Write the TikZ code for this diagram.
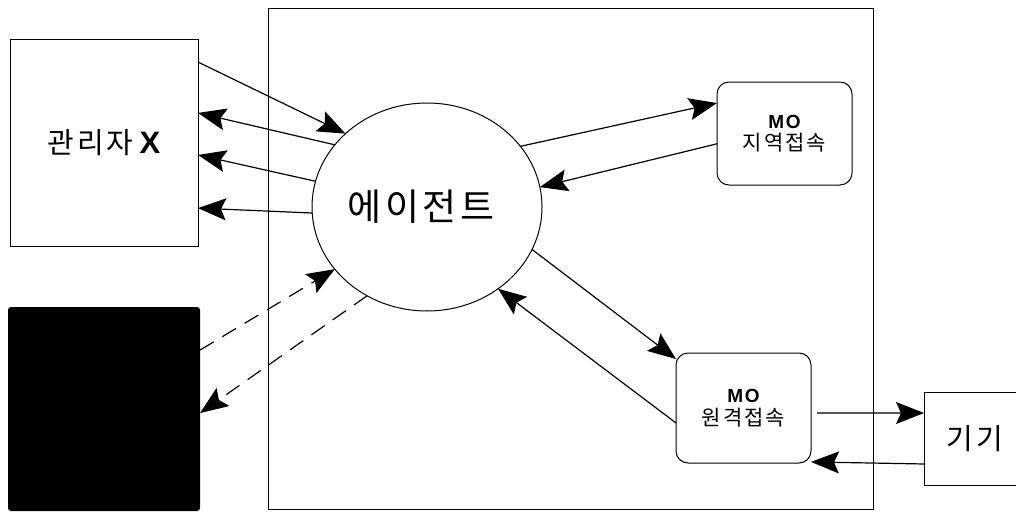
\documentclass[tikz,border=0pt]{standalone}
\usepackage{fontspec}
\setmainfont{Liberation Sans}
\newfontfamily\kr[LetterSpace=10]{Noto Sans CJK KR}
\newfontfamily\krw[LetterSpace=10]{Noto Sans CJK KR}
\newfontfamily\lb{Liberation Sans}
\newfontfamily\lbs[LetterSpace=10]{Liberation Sans}
\usetikzlibrary{arrows.meta,calc,shapes.geometric}
\tikzset{
  box/.style={draw, line width=1pt, inner sep=0pt, outer sep=0pt},
  mobox/.style={box, rounded corners=12pt, minimum width=135pt, align=center},
  arr/.style={line width=1.2pt, -{Stealth[length=28pt,width=22pt,inset=5pt]}},
  darr/.style={arr, dash pattern=on 16pt off 10pt},
}
\begin{document}
\begin{tikzpicture}[x=1pt,y=-1pt]
\useasboundingbox (0,0) rectangle (1016,511);
\clip (0,0) rectangle (1016,511);
\node[box, minimum width=605pt, minimum height=500pt] (big) at (570.5,259) {};
\node[box, minimum width=188pt, minimum height=206pt] (mgr) at (104,143)
  {\fontsize{29pt}{32pt}\selectfont\kr 관리자\hspace{6pt}{\fontsize{31pt}{32pt}\selectfont\lb\bfseries X}};
\path[fill=black, rounded corners=3pt] (8,511) -- (8,307) -- (200,307) -- (200,511) -- cycle;
\node[inner sep=0pt, outer sep=0pt, minimum width=192pt, minimum height=204pt] (blk) at (104,409) {};
\node[box, ellipse, fill=white, minimum width=230pt, minimum height=208pt] (ag) at (427,207)
  {\fontsize{37pt}{40pt}\selectfont\krw 에이전트\kern 12pt};
\node[mobox, minimum height=103pt] (mo1) at (784.5,133.5)
  {{\fontsize{19pt}{22pt}\selectfont\lbs\bfseries MO}\\[4pt]{\fontsize{21pt}{22pt}\selectfont\kr 지역접속}};
\node[mobox, minimum height=110pt] (mo2) at (743.5,408)
  {{\fontsize{19pt}{22pt}\selectfont\lbs\bfseries MO}\\[4pt]{\fontsize{21pt}{22pt}\selectfont\kr 원격접속}};
\node[box, minimum width=102pt, minimum height=93pt] (dev) at (975,438.5)
  {\fontsize{29pt}{30pt}\selectfont\krw 기기};
% manager arrows
\draw[arr] ($(mgr.north east)!0.107!(mgr.south east)$) -- (ag.138.6);
\draw[arr] (ag.146.2) -- ($(mgr.north east)!0.354!(mgr.south east)$);
\draw[arr] (ag.167) -- ($(mgr.north east)!0.558!(mgr.south east)$);
\draw[arr] (ag.183.5) -- ($(mgr.north east)!0.816!(mgr.south east)$);
% dashed
\draw[darr] ($(blk.north east)!0.211!(blk.south east)$) -- (ag.214);
\draw[darr] (ag.236) -- ($(blk.north east)!0.52!(blk.south east)$);
% MO local
\draw[arr] (ag.33.8) -- ($(mo1.north west)!0.204!(mo1.south west)$);
\draw[arr] ($(mo1.north west)!0.60!(mo1.south west)$) -- (ag.10.7);
% MO remote
\draw[arr] (ag.-22.3) -- ($(mo2.north west)!0.055!(mo2.south west)$);
\draw[arr] ($(mo2.north west)!0.636!(mo2.south west)$) -- (ag.311.3);
% device
\draw[arr] ($(mo2.north east)!0.545!(mo2.south east)+(6,0)$) -- ($(dev.north west)!0.226!(dev.south west)$);
\draw[arr] ($(dev.north west)!0.774!(dev.south west)$) -- ($(mo2.north east)!0.99!(mo2.south east)$);
\end{tikzpicture}
\end{document}
